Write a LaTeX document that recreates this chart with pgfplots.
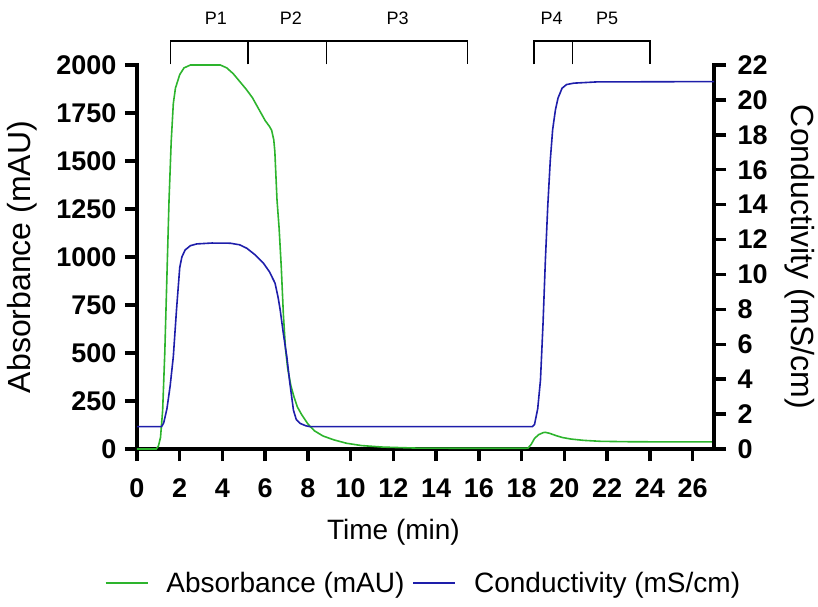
\documentclass[border=0pt]{standalone}
\usepackage{fontspec}
\setmainfont{Liberation Sans}
\usepackage{pgfplots}
\pgfplotsset{compat=1.18}
\definecolor{absgreen}{RGB}{45,180,45}
\definecolor{condblue}{RGB}{30,30,170}
\newcommand{\tickf}{\fontsize{27}{30}\selectfont\bfseries}
\newcommand{\labf}{\fontsize{28}{32}\selectfont}
\newcommand{\ylabf}{\fontsize{32}{36}\selectfont}
\newcommand{\pf}{\fontsize{18}{20}\selectfont}
\begin{document}
\begin{tikzpicture}
\path[use as bounding box] (-137pt,-157pt) rectangle (681pt,449pt);
\pgfplotsset{
 common/.style={scale only axis, width=577pt, height=384pt, xmin=0, xmax=27,
  axis line style={line width=3.5pt, line cap=rect},
  every tick/.style={black, line width=3.5pt},
  major tick length=12pt, tick align=outside,
  tick label style={font=\tickf},
  /pgf/number format/assume math mode=true,
  /pgf/number format/1000 sep={},
  scaled ticks=false, clip=false}
}
\begin{axis}[common, axis x line*=bottom, axis y line*=left,
  ymin=0, ymax=2000, ytick={0,250,...,2000}, xtick={0,2,...,26},
  xticklabel style={yshift=-14pt},
  yticklabel style={xshift=-5pt},
  xlabel={Time (min)}, ylabel={Absorbance (mAU)},
  every axis x label/.style={at={(axis description cs:0.4445,-0.216)}, anchor=center, font=\labf},
  every axis y label/.style={at={(axis description cs:-0.199,0.5)}, rotate=90, anchor=center, font=\ylabf},
  legend style={at={(axis description cs:0.4965,-0.349)}, anchor=center, draw=none, font=\labf,
    legend columns=2, /tikz/every even column/.append style={column sep=6pt}},
  legend image code/.code={\draw[#1, line width=1.6pt] (0pt,0pt) -- (42pt,0pt); \path (58pt,0pt);}]
\addplot[absgreen, line width=1.6pt] coordinates {
(0,0) (0.9,0) (1.0,15) (1.1,60) (1.2,200) (1.3,500) (1.4,900) (1.5,1300) (1.6,1600) (1.7,1800)
(1.8,1880) (2.0,1950) (2.2,1985) (2.5,2000) (3.9,2000) (4.2,1985) (4.5,1955) (4.8,1915) (5.1,1875)
(5.4,1830) (5.7,1770) (6.0,1710) (6.2,1680) (6.3,1660) (6.4,1610) (6.45,1550) (6.55,1300) (6.65,1150)
(6.75,950) (6.85,700) (6.95,520) (7.05,420) (7.2,330) (7.35,270) (7.5,220) (7.7,180) (8.0,130)
(8.3,95) (8.7,68) (9.2,48) (9.8,30) (10.5,18) (11.5,10) (13,5) (15,4) (18.2,4) (18.3,5) (18.45,25)
(18.6,55) (18.8,75) (19.0,85) (19.1,87) (19.3,82) (19.6,70) (19.9,60) (20.3,52) (20.9,45) (21.7,40)
(23,38) (25,37) (27,37)};
\addlegendentry{Absorbance (mAU)}
\addlegendimage{condblue, line width=1.6pt}
\addlegendentry{Conductivity (mS/cm)}
% brackets
\draw[line width=1.3pt] (axis cs:1.56,2003) -- (axis cs:1.56,2125) -- (axis cs:15.48,2125) -- (axis cs:15.48,2003);
\draw[line width=1.3pt] (axis cs:5.19,2003) -- (axis cs:5.19,2125);
\draw[line width=1.3pt] (axis cs:8.87,2003) -- (axis cs:8.87,2125);
\draw[line width=1.3pt] (axis cs:18.57,2003) -- (axis cs:18.57,2125) -- (axis cs:24.01,2125) -- (axis cs:24.01,2003);
\draw[line width=1.3pt] (axis cs:20.38,2003) -- (axis cs:20.38,2125);
\node[font=\pf] at (axis cs:3.69,2245) {P1};
\node[font=\pf] at (axis cs:7.2,2245) {P2};
\node[font=\pf] at (axis cs:12.2,2245) {P3};
\node[font=\pf] at (axis cs:19.4,2245) {P4};
\node[font=\pf] at (axis cs:22.0,2245) {P5};
\end{axis}
\begin{axis}[common, axis x line=none, axis y line*=right,
  ymin=0, ymax=22, ytick={0,2,...,22},
  yticklabel style={xshift=8pt},
  ylabel={Conductivity (mS/cm)},
  every axis y label/.style={at={(axis description cs:1.149,0.5)}, rotate=-90, anchor=center, font=\ylabf}]
\addplot[condblue, line width=1.6pt] coordinates {
(0,1.28) (1.15,1.28) (1.25,1.5) (1.4,2.3) (1.55,3.6) (1.7,5.3) (1.85,8.0) (2.0,10.4) (2.1,11.0)
(2.25,11.4) (2.5,11.65) (2.8,11.75) (3.5,11.8) (4.36,11.79) (4.8,11.7) (5.14,11.5) (5.5,11.15)
(5.92,10.64) (6.2,10.15) (6.46,9.5) (6.6,8.7) (6.7,7.97) (6.85,6.6) (7.01,5.29) (7.15,3.8)
(7.32,2.23) (7.45,1.7) (7.63,1.47) (7.9,1.33) (8.1,1.28) (18.5,1.28) (18.6,1.4) (18.75,2.3)
(18.88,3.95) (19.0,7.2) (19.11,10.83) (19.22,13.9) (19.34,16.56) (19.45,18.3) (19.58,19.43)
(19.7,20.1) (19.89,20.67) (20.1,20.88) (20.44,20.96) (21.5,21.03) (27,21.05)};
\end{axis}
\end{tikzpicture}
\end{document}
